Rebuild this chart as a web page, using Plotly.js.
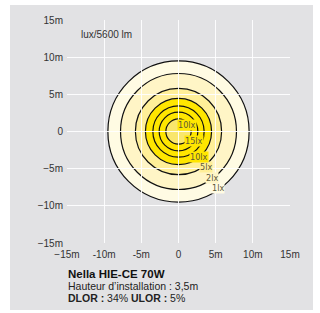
<!DOCTYPE html>
<html>
<head>
<meta charset="utf-8">
<script src="https://cdn.plot.ly/plotly-3.0.1.min.js"></script>
<style>
  html, body { margin: 0; padding: 0; background: #ffffff; }
  #wrap { position: relative; width: 320px; height: 313px; overflow: hidden; }
  #chart { width: 320px; height: 313px; }
  .edge { position: absolute; background: #ffffff; pointer-events: none; }
</style>
</head>
<body>
<div id="wrap">
  <div id="chart"></div>
  <div class="edge" style="left:0;top:0;width:10px;height:313px;"></div>
  <div class="edge" style="left:0;top:0;width:320px;height:5px;"></div>
  <div class="edge" style="left:313px;top:0;width:7px;height:313px;"></div>
  <div class="edge" style="left:0;top:310px;width:320px;height:3px;"></div>
</div>
<script>
// ---- data ----
const isoRadii = [9.5, 7.8, 5.8, 4.45, 3.45, 2.6, 1.7];          // metres, outer -> inner
const isoLabels = ["1lx", "2lx", "5lx", "10lx", "15lx", "10lx"]; // labels as printed
const tickVals = [-15, -10, -5, 0, 5, 10, 15];
const xTickText = ["\u221215m", "-10m", "-5m", "0", "5m", "10m", "15m"];
const yTickText = ["\u221215m", "\u221210m", "\u22125m", "0", "5m", "10m", "15m"];
const fluxTitle = "lux/5600 lm";
const productName = "Nella HIE-CE 70W";
const mountHeight = "Hauteur d\u2019installation : 3,5m";
const dlor = "34%";
const ulor = "5%";

// ---- styles / positions ----
const ringFills = ["#fffbe3", "#fff5c6", "#ffef98", "#ffe600", "#ffe600", "#ffe600", "#f9e66c"];
const labelBg = ["#fffbe3", "#fff5c6", "#ffef98", "#ffe600", "#ffe600", "#ffe600"];
const labelPos = [[5.36, -7.6], [4.47, -6.3], [3.7, -4.82], [2.75, -3.47], [2.13, -1.28], [1.14, 0.83]];

const grey = "rgb(226,226,228)";
const fontFam = "'Liberation Sans', Arial, sans-serif";
const narrowFam = "'Liberation Sans Narrow', 'DejaVu Sans Condensed', 'Arial Narrow', sans-serif";

const shapes = [];
isoRadii.forEach((r, i) => {
  shapes.push({type: "circle", xref: "x", yref: "y", x0: -r, x1: r, y0: -r, y1: r,
    fillcolor: ringFills[i], line: {color: "#111111", width: 1.2}, layer: "below"});
});

const annotations = [];
isoLabels.forEach((t, i) => {
  annotations.push({x: labelPos[i][0], y: labelPos[i][1], xref: "x", yref: "y", text: t,
    showarrow: false, bgcolor: labelBg[i], borderpad: 0,
    font: {family: narrowFam, size: 9, color: "#5c5838"}});
});
annotations.push({xref: "paper", yref: "paper", x: 0.052, y: 0.936, xanchor: "left", yanchor: "middle",
  text: fluxTitle, showarrow: false, font: {family: fontFam, size: 10, color: "#333"}});
annotations.push({xref: "paper", yref: "paper", x: -0.003, y: -0.137, xanchor: "left", yanchor: "middle",
  text: "<b>" + productName + "</b>", showarrow: false, font: {family: fontFam, size: 11.5, color: "#111"}});
annotations.push({xref: "paper", yref: "paper", x: -0.003, y: -0.191, xanchor: "left", yanchor: "middle",
  text: mountHeight, showarrow: false, font: {family: fontFam, size: 10.5, color: "#222"}});
annotations.push({xref: "paper", yref: "paper", x: -0.003, y: -0.245, xanchor: "left", yanchor: "middle",
  text: "<b>DLOR :</b> " + dlor + " <b>ULOR :</b> " + ulor, showarrow: false,
  font: {family: fontFam, size: 10.5, color: "#222"}});

const axisCommon = {
  range: [-15, 15], tickmode: "array", tickvals: tickVals,
  showgrid: true, gridcolor: "rgba(255,255,255,0.9)", gridwidth: 1,
  zeroline: false, showline: false, ticks: "", fixedrange: true,
  tickfont: {family: fontFam, size: 10, color: "#333"}
};

const layout = {
  width: 320, height: 313,
  margin: {l: 67, r: 30, t: 20, b: 70, pad: 0},
  paper_bgcolor: grey, plot_bgcolor: grey,
  showlegend: false,
  xaxis: Object.assign({}, axisCommon, {ticktext: xTickText, ticklabelstandoff: 4}),
  yaxis: Object.assign({}, axisCommon, {ticktext: yTickText, ticklabelstandoff: 3}),
  shapes: shapes,
  annotations: annotations
};

const traces = [{x: [0], y: [0], type: "scatter", mode: "markers", marker: {size: 0, opacity: 0}, hoverinfo: "skip"}];

Plotly.newPlot("chart", traces, layout, {displayModeBar: false});
</script>
</body>
</html>
